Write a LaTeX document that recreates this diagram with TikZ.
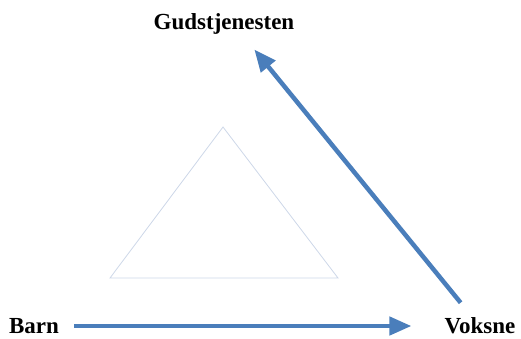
\documentclass[tikz,border=0pt]{standalone}
\usepackage{fontspec}
\setmainfont{Liberation Serif}
\usepackage{xcolor}
\usepackage{tikz}
\usetikzlibrary{arrows.meta, positioning}

\definecolor{arrblue}{RGB}{74,126,187}
\definecolor{trigray}{RGB}{205,215,232}

\begin{document}
\begin{tikzpicture}[x=1pt, y=-1pt,
        lbl/.style={font=\fontsize{23}{28}\selectfont\bfseries, inner sep=1pt},
        arr/.style={draw=arrblue, line width=4.5pt, -{Triangle[length=22pt, width=18pt]}},
        tri/.style={draw=trigray, line width=0.8pt}]
        \useasboundingbox (0,0) rectangle (521,338);

        \node (gud) [lbl] at (224,24) {Gudstjenesten};
        \node (barn) [lbl] at (34,326) {Barn};
        \node (voksne) [lbl] at (480,326) {Voksne};

        % triangle in the middle
        \draw[tri] (223,127) -- (338,278) -- (110,278) -- cycle;

        \draw[arr, shorten <=14pt, shorten >=32pt] (barn.east) -- (barn.east -| voksne.west);
        \draw[arr, shorten <=18pt, shorten >=18pt] ([xshift=-8pt]voksne.north) -- ([xshift=19pt]gud.south);
    \end{tikzpicture}
\end{document}
